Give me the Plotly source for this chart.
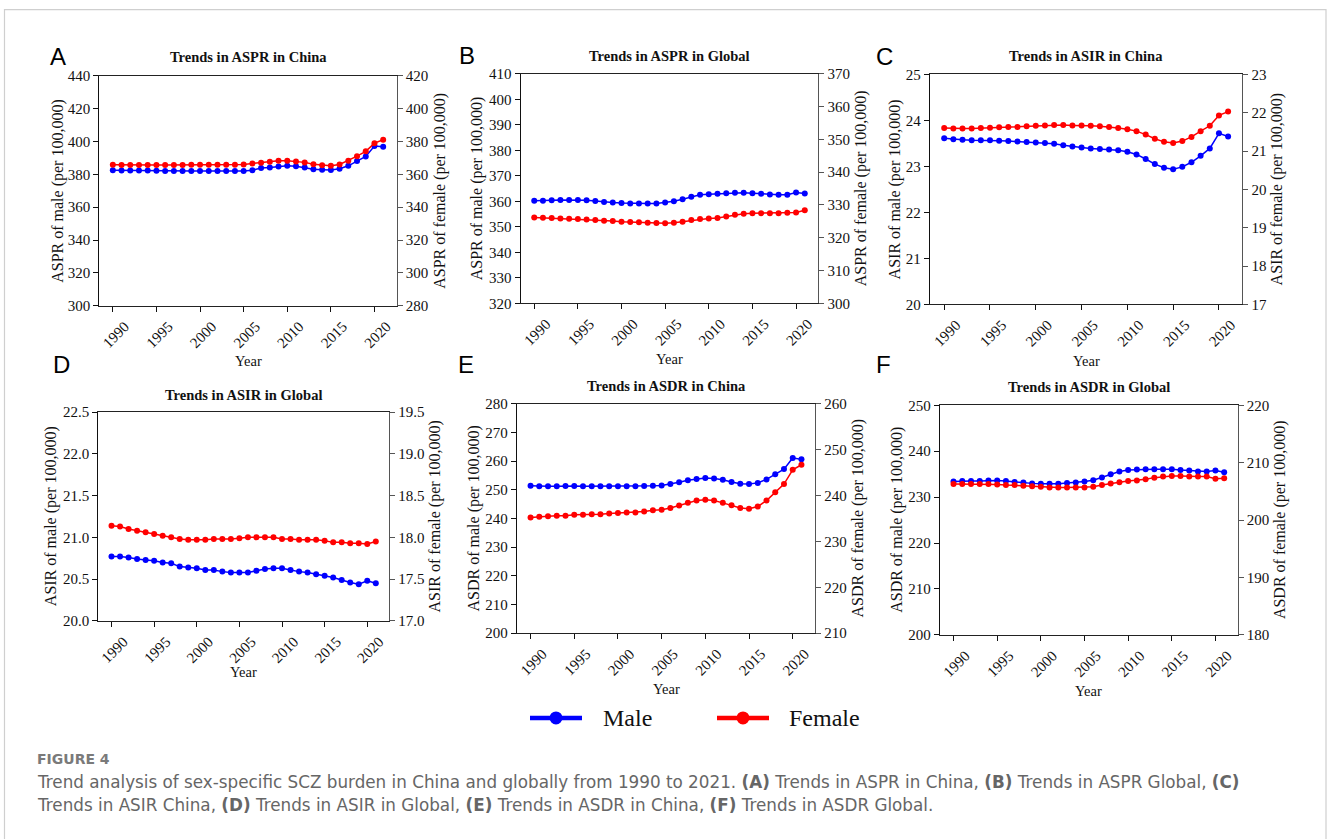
import plotly.graph_objects as go

W, H = 1328, 839

years = list(range(1990, 2022))
x_ticks = [1990, 1995, 2000, 2005, 2010, 2015, 2020]

aspr_china_male = [382.5, 382.4, 382.3, 382.3, 382.3, 382.2, 382.1, 382.0, 382.0, 382.0,
                   382.0, 382.0, 382.0, 382.0, 382.0, 382.1, 382.5, 383.8, 384.2, 384.8,
                   385.2, 385.0, 384.2, 383.1, 382.8, 382.6, 383.4, 385.2, 388.1, 390.9,
                   397.2, 396.8]
aspr_china_female = [365.8, 365.7, 365.7, 365.7, 365.7, 365.7, 365.7, 365.7, 365.7, 365.8,
                     365.8, 365.8, 365.8, 365.9, 365.9, 366.0, 366.6, 367.1, 367.7, 368.3,
                     368.3, 367.9, 367.3, 366.2, 365.6, 365.2, 366.0, 368.3, 371.1, 374.0,
                     379.0, 381.1]
aspr_global_male = [360.2, 360.2, 360.4, 360.5, 360.5, 360.5, 360.4, 360.1, 359.7, 359.5,
                    359.3, 359.2, 359.2, 359.2, 359.2, 359.5, 360.0, 360.8, 361.8, 362.6,
                    362.8, 363.0, 363.2, 363.4, 363.4, 363.2, 363.0, 362.7, 362.6, 362.6,
                    363.5, 363.1]
aspr_global_female = [326.2, 326.1, 326.0, 325.9, 325.8, 325.7, 325.6, 325.4, 325.2, 325.1,
                      324.9, 324.8, 324.7, 324.6, 324.5, 324.4, 324.6, 324.9, 325.4, 325.7,
                      325.9, 326.0, 326.5, 327.0, 327.3, 327.5, 327.5, 327.5, 327.5, 327.6,
                      327.7, 328.4]
asir_china_male = [23.61, 23.59, 23.58, 23.57, 23.57, 23.57, 23.56, 23.55, 23.54, 23.53,
                   23.52, 23.51, 23.49, 23.46, 23.43, 23.41, 23.39, 23.38, 23.37, 23.35,
                   23.32, 23.26, 23.16, 23.05, 22.97, 22.94, 22.99, 23.09, 23.23, 23.39,
                   23.72, 23.65]
asir_china_female = [21.60, 21.59, 21.59, 21.59, 21.60, 21.61, 21.62, 21.63, 21.63, 21.65,
                     21.66, 21.67, 21.68, 21.68, 21.67, 21.67, 21.66, 21.65, 21.63, 21.60,
                     21.57, 21.52, 21.43, 21.32, 21.24, 21.21, 21.26, 21.37, 21.52, 21.66,
                     21.93, 22.03]
asir_global_male = [20.77, 20.77, 20.76, 20.74, 20.73, 20.72, 20.70, 20.69, 20.65, 20.64,
                    20.63, 20.61, 20.61, 20.59, 20.58, 20.58, 20.58, 20.60, 20.62, 20.63,
                    20.63, 20.61, 20.59, 20.58, 20.56, 20.54, 20.52, 20.49, 20.46, 20.44,
                    20.48, 20.45]
asir_global_female = [18.14, 18.13, 18.10, 18.08, 18.06, 18.04, 18.02, 18.00, 17.98, 17.97,
                      17.97, 17.97, 17.98, 17.98, 17.98, 17.99, 18.00, 18.00, 18.00, 18.00,
                      17.98, 17.98, 17.97, 17.97, 17.97, 17.96, 17.94, 17.94, 17.93, 17.93,
                      17.92, 17.95]
asdr_china_male = [251.4, 251.2, 251.2, 251.2, 251.3, 251.3, 251.2, 251.2, 251.2, 251.2,
                   251.2, 251.2, 251.2, 251.3, 251.4, 251.5, 252.0, 252.6, 253.3, 253.8,
                   254.1, 253.9, 253.5, 252.7, 252.1, 252.0, 252.4, 253.6, 255.4, 257.2,
                   261.1, 260.6]
asdr_china_female = [235.2, 235.4, 235.5, 235.6, 235.6, 235.8, 235.8, 235.9, 235.9, 236.1,
                     236.2, 236.3, 236.3, 236.5, 236.8, 236.9, 237.3, 237.8, 238.4, 238.9,
                     239.1, 238.9, 238.4, 237.9, 237.3, 237.1, 237.6, 238.9, 240.7, 242.5,
                     245.6, 246.7]
asdr_global_male = [233.4, 233.5, 233.5, 233.5, 233.6, 233.6, 233.5, 233.3, 233.2, 233.0,
                    232.9, 232.9, 232.9, 233.1, 233.2, 233.4, 233.7, 234.3, 235.0, 235.6,
                    235.9, 236.0, 236.1, 236.1, 236.1, 236.1, 235.9, 235.8, 235.6, 235.6,
                    235.8, 235.4]
asdr_global_female = [206.3, 206.3, 206.3, 206.3, 206.3, 206.2, 206.1, 206.1, 206.0, 205.9,
                      205.8, 205.7, 205.7, 205.7, 205.7, 205.7, 205.8, 206.1, 206.4, 206.6,
                      206.8, 206.9, 207.1, 207.4, 207.6, 207.7, 207.7, 207.6, 207.6, 207.6,
                      207.2, 207.3]

legend_names = ["Male", "Female"]
caption_head = "FIGURE 4"
caption_line1 = ("Trend analysis of sex-specific SCZ burden in China and globally from 1990 to 2021. "
                 "<b>(A)</b> Trends in ASPR in China, <b>(B)</b> Trends in ASPR Global, <b>(C)</b>")
caption_line2 = ("Trends in ASIR China, <b>(D)</b> Trends in ASIR in Global, <b>(E)</b> Trends in ASDR in China, "
                 "<b>(F)</b> Trends in ASDR Global.")

SERIF = "Liberation Serif"
SANS = "Liberation Sans"
CAP = "DejaVu Sans"
BLUE = "#0000ff"
RED = "#ff0000"

# the photographed page shows the figure slightly inset vertically;
# map target screen rows to figure rows accordingly
V_SCALE = 839 / 855
V_OFF = 8


def px(x):
    return x / W


def py(y):
    return 1 - (y / V_SCALE - V_OFF) / H


# panel layout (pixel boxes: left, top, right, bottom) and label positions
panels = [
    dict(letter="A", title="Trends in ASPR in China", m="ASPR", male=aspr_china_male, female=aspr_china_female,
         lr=[300, 440], ld=20, rr=[280, 420], rd=20, fmt="d",
         box=(99.3, 75.7, 396.7, 305.7), let=(58, 56), ttl=57, yl=58, yr=440, year=361),
    dict(letter="B", title="Trends in ASPR in Global", m="ASPR", male=aspr_global_male, female=aspr_global_female,
         lr=[320, 410], ld=10, rr=[300, 370], rd=10, fmt="d",
         box=(520.7, 73.7, 818.3, 303.3), let=(467, 55.6), ttl=56, yl=476.7, yr=860.7, year=359),
    dict(letter="C", title="Trends in ASIR in China", m="ASIR", male=asir_china_male, female=asir_china_female,
         lr=[20, 25], ld=1, rr=[17, 23], rd=1, fmt="d",
         box=(930, 74.3, 1242.3, 304.3), let=(884.5, 56), ttl=56, yl=895, yr=1277, year=360.7),
    dict(letter="D", title="Trends in ASIR in Global", m="ASIR", male=asir_global_male, female=asir_global_female,
         lr=[20.0, 22.5], ld=0.5, rr=[17.0, 19.5], rd=0.5, fmt=".1f",
         box=(98.3, 412, 389, 621), let=(61.7, 364.7), ttl=395, yl=51.7, yr=435, year=671.7),
    dict(letter="E", title="Trends in ASDR in China", m="ASDR", male=asdr_china_male, female=asdr_china_female,
         lr=[200, 280], ld=10, rr=[210, 260], rd=10, fmt="d",
         box=(517, 403.7, 815, 633.3), let=(466, 364.7), ttl=385.7, yl=474, yr=858, year=689),
    dict(letter="F", title="Trends in ASDR in Global", m="ASDR", male=asdr_global_male, female=asdr_global_female,
         lr=[200, 250], ld=10, rr=[180, 220], rd=10, fmt="d",
         box=(940, 405.3, 1237.7, 635), let=(884, 364.7), ttl=386.7, yl=896.7, yr=1280, year=690.7),
]

fig = go.Figure()
layout = dict(
    width=W, height=H, margin=dict(l=0, r=0, t=0, b=0),
    paper_bgcolor="white", plot_bgcolor="white", showlegend=False,
)
annotations = []
shapes = []
tickfont = dict(family=SERIF, size=15, color="#111")
x_lo = years[0] - 0.05 * (years[-1] - years[0])
x_hi = years[-1] + 0.05 * (years[-1] - years[0])

for i, p in enumerate(panels):
    n = i + 1
    xname = "x" if n == 1 else f"x{n}"
    ylname = "y" if n == 1 else f"y{2 * n - 1}"
    yrname = f"y{2 * n}"
    xkey = "xaxis" if n == 1 else f"xaxis{n}"
    ylkey = "yaxis" if n == 1 else f"yaxis{2 * n - 1}"
    yrkey = f"yaxis{2 * n}"
    L, T, R, B = p["box"]

    fig.add_trace(go.Scatter(x=years, y=p["male"], xaxis=xname, yaxis=ylname, mode="lines+markers",
                             line=dict(color=BLUE, width=1.5), marker=dict(color=BLUE, size=6),
                             name=legend_names[0]))
    fig.add_trace(go.Scatter(x=years, y=p["female"], xaxis=xname, yaxis=yrname, mode="lines+markers",
                             line=dict(color=RED, width=1.5), marker=dict(color=RED, size=6),
                             name=legend_names[1]))

    layout[xkey] = dict(domain=[px(L), px(R)], anchor=ylname, range=[x_lo, x_hi],
                        tickvals=x_ticks, ticktext=[str(v) for v in x_ticks], tickangle=-45,
                        ticks="outside", ticklen=5, tickwidth=1.2, tickcolor="#111",
                        showline=True, linecolor="#222", linewidth=1.3, mirror=True,
                        showgrid=False, zeroline=False, tickfont=tickfont, ticklabelshift=12)
    layout[ylkey] = dict(domain=[py(B), py(T)], anchor=xname, range=p["lr"], dtick=p["ld"],
                         tick0=p["lr"][0], tickformat=p["fmt"],
                         ticks="outside", ticklen=5, tickwidth=1.2, tickcolor="#111",
                         showline=True, linecolor="#111", linewidth=1.3,
                         showgrid=False, zeroline=False, tickfont=tickfont)
    layout[yrkey] = dict(overlaying=ylname, side="right", anchor=xname, range=p["rr"], dtick=p["rd"],
                         tick0=p["rr"][0], tickformat=p["fmt"],
                         ticks="outside", ticklen=5, tickwidth=1.2, tickcolor="#555",
                         showline=True, linecolor="#555", linewidth=1.3,
                         showgrid=False, zeroline=False, tickfont=tickfont)

    cx = (L + R) / 2
    annotations += [
        dict(text=p["letter"], x=px(p["let"][0]), y=py(p["let"][1]), xref="paper", yref="paper",
             showarrow=False, xanchor="center", yanchor="middle", font=dict(family=SANS, size=24, color="#000")),
        dict(text=f"<b>{p['title']}</b>", x=px(cx), y=py(p["ttl"]), xref="paper", yref="paper",
             showarrow=False, xanchor="center", yanchor="middle", font=dict(family=SERIF, size=14.5, color="#111")),
        dict(text=f"{p['m']} of male (per 100,000)", x=px(p["yl"]), y=py((T + B) / 2), xref="paper", yref="paper",
             showarrow=False, textangle=-90, xanchor="center", yanchor="middle",
             font=dict(family=SERIF, size=16, color="#111")),
        dict(text=f"{p['m']} of female (per 100,000)", x=px(p["yr"]), y=py((T + B) / 2), xref="paper", yref="paper",
             showarrow=False, textangle=-90, xanchor="center", yanchor="middle",
             font=dict(family=SERIF, size=16, color="#111")),
        dict(text="Year", x=px(cx), y=py(p["year"]), xref="paper", yref="paper",
             showarrow=False, xanchor="center", yanchor="middle", font=dict(family=SERIF, size=14.5, color="#111")),
    ]

# legend keys (drawn as a shared figure legend below the panels)
for name, color, (x0, x1, tx) in zip(legend_names, [BLUE, RED], [(530, 582, 601), (717, 769, 787)]):
    ly = 718
    shapes.append(dict(type="line", xref="paper", yref="paper", x0=px(x0), x1=px(x1), y0=py(ly), y1=py(ly),
                       line=dict(color=color, width=4.5)))
    cxm = (x0 + x1) / 2
    shapes.append(dict(type="circle", xref="paper", yref="paper", x0=px(cxm - 6.5), x1=px(cxm + 6.5),
                       y0=py(ly + 6.5), y1=py(ly - 6.5), line=dict(color=color, width=0), fillcolor=color))
    annotations.append(dict(text=name, x=px(tx), y=py(ly), xref="paper", yref="paper", showarrow=False,
                            xanchor="left", yanchor="middle", font=dict(family=SERIF, size=24, color="#111")))

annotations += [
    dict(text=f"<b>{caption_head}</b>", x=px(35), y=py(759), xref="paper", yref="paper", showarrow=False,
         xanchor="left", yanchor="middle", font=dict(family=CAP, size=14, color="#7a7a7a")),
    dict(text=caption_line1, x=px(35), y=py(782), xref="paper", yref="paper", showarrow=False,
         xanchor="left", yanchor="middle", font=dict(family=CAP, size=16.8, color="#666")),
    dict(text=caption_line2, x=px(35), y=py(805), xref="paper", yref="paper", showarrow=False,
         xanchor="left", yanchor="middle", font=dict(family=CAP, size=16.8, color="#666")),
]
shapes.append(dict(type="rect", xref="paper", yref="paper", x0=px(4.5), x1=px(1326), y0=-0.05, y1=py(9.5),
                   line=dict(color="#cfcfcf", width=1.2), fillcolor="rgba(0,0,0,0)", layer="below"))
layout["annotations"] = annotations
layout["shapes"] = shapes

fig.update_layout(**layout)
fig.write_html("out.html")
